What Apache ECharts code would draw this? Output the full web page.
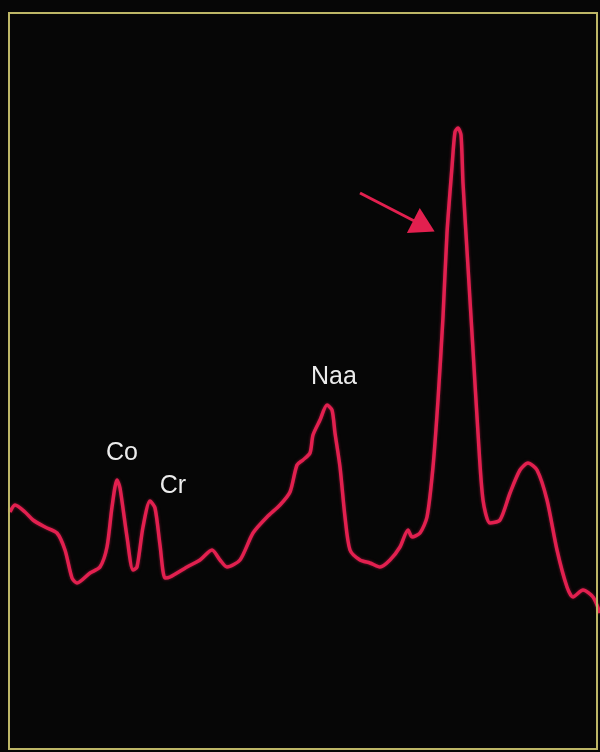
<!DOCTYPE html>
<html><head><meta charset="utf-8">
<script src="https://cdn.jsdelivr.net/npm/echarts@6/dist/echarts.min.js"></script>
<style>html,body{margin:0;padding:0;background:#060606;}#c{width:600px;height:752px;}</style>
</head><body><div id="c"></div>
<script>
// spectrum position (horizontal units) and signal intensity
const positions = [10,15,25,33,45,57,65,72,77,90,100,107,112,117,120,127,133,137,143,150,155,160,165,170,187,200,212,220,227,240,253,267,280,290,297,303,310,313,320,327,332,335,340,345,350,360,370,380,390,400,408,412,420,427,433,438,443,447,452,455,458,461,463,468,473,478,483,490,500,510,520,528,537,547,557,567,573,583,593,600];
const intensity = [240,247,240,232,225,219,202,174,169,179,185,205,245,272,264,215,182,185,225,251,244,207,174,175,185,192,202,192,185,192,219,235,247,260,287,292,299,317,332,347,342,319,285,235,202,192,189,185,192,205,222,215,219,235,285,352,435,519,585,620,624,617,569,485,402,319,252,229,232,259,282,289,282,252,202,165,155,162,155,139];
// peak labels
const peakNames = ["Co", "Cr", "Naa"];
const peakLabelX = [122, 173, 334];
const peakLabelY = [299, 266, 375];
// arrow annotation (tail -> tip)
const arrowFrom = [360, 559];
const arrowTo = [424, 526];

const chart = echarts.init(document.getElementById('c'));
chart.setOption({
  backgroundColor: '#060606',
  animation: false,
  grid: {left: 0, right: 0, top: 0, bottom: 0},
  xAxis: {type: 'value', min: 0, max: 600, show: false},
  yAxis: {type: 'value', min: 0, max: 752, show: false},
  graphic: [{
    type: 'rect', shape: {x: 9, y: 13, width: 588, height: 736},
    style: {fill: 'none', stroke: '#bdb666', lineWidth: 2}, z: 10
  }],
  series: [{
    type: 'line',
    data: positions.map((x, i) => [x, intensity[i]]),
    smooth: 0.25,
    symbol: 'none',
    lineStyle: {color: '#e2204f', width: 3.5, shadowColor: 'rgba(230,40,90,0.5)', shadowBlur: 3},
    markPoint: {
      symbol: 'circle', symbolSize: 0,
      label: {show: true, position: 'inside', color: '#ececec', fontSize: 25, fontFamily: 'Liberation Sans, Arial, sans-serif', formatter: p => p.name},
      data: peakNames.map((n, i) => ({name: n, coord: [peakLabelX[i], peakLabelY[i]]}))
    },
    markLine: {
      silent: true,
      symbol: ['none', 'triangle'],
      symbolSize: [28, 24],
      label: {show: false},
      lineStyle: {color: '#e2204f', width: 3, type: 'solid'},
      data: [[{coord: arrowFrom}, {coord: arrowTo}]]
    }
  }]
});
</script>
</body></html>
